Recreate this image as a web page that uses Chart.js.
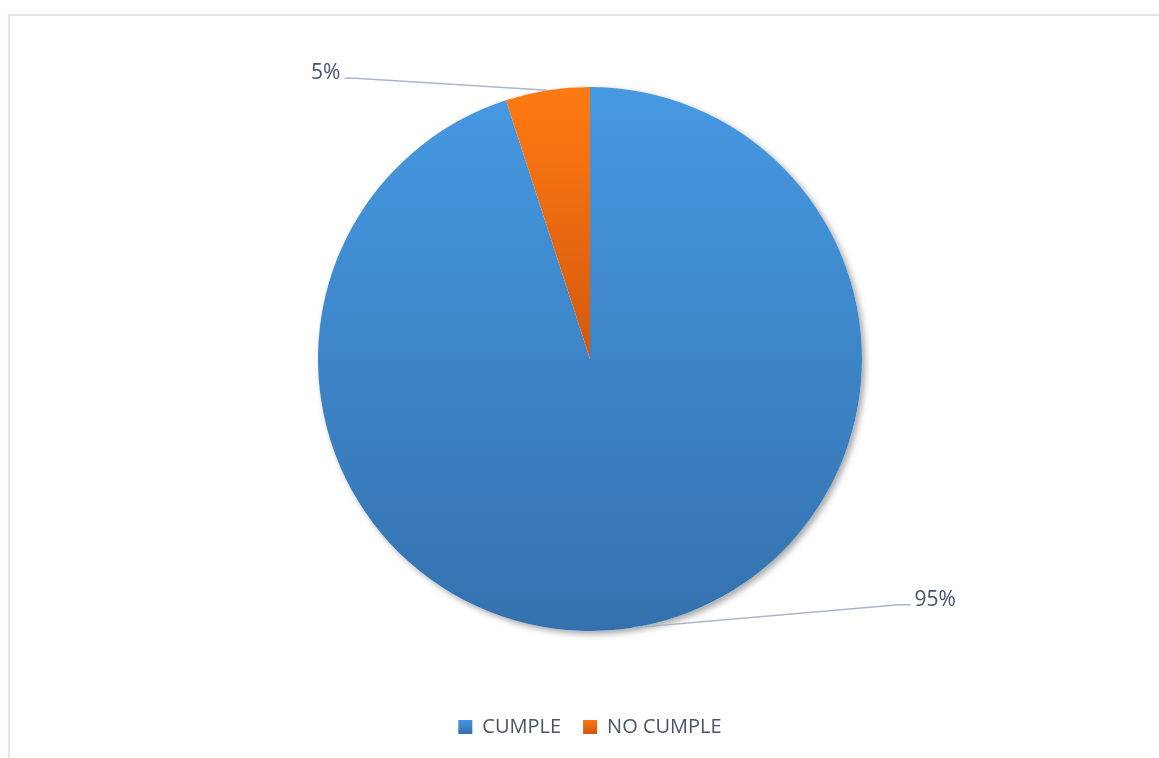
<!DOCTYPE html>
<html>
<head>
<meta charset="utf-8">
<script src="https://cdn.jsdelivr.net/npm/chart.js@4"></script>
<style>
  html, body { margin: 0; padding: 0; background: #fff; }
  #wrap { position: relative; width: 1159px; height: 758px; }
  #frame {
    position: absolute; left: 8px; top: 14px; right: 0; bottom: 0;
    border-top: 2px solid #e1e5ec; border-left: 2px solid #e1e5ec;
  }
  canvas { position: absolute; left: 0; top: 0; }
</style>
</head>
<body>
<div id="wrap">
  <div id="frame"></div>
  <canvas id="pieChart" width="1159" height="758"></canvas>
</div>
<script>
const labels = ['CUMPLE', 'NO CUMPLE'];
const values = [95, 5];
const pctLabels = ['95%', '5%'];

const textColor = '#44546a';
const lineColor = '#a9b6c8';
const sliceStops = [['#4699e2', '#3471ae'], ['#ff7a12', '#d3590e']];

// top-to-bottom shading like the office gradient fills
function sliceFill(context) {
    const chart = context.chart;
    const area = chart.chartArea;
    const i = context.dataIndex;
    if (!area || !isFinite(area.top)) return sliceStops[i][0];
    const cy = (area.top + area.bottom) / 2;
    const r = Math.min(area.right - area.left, area.bottom - area.top) / 2;
    const g = chart.ctx.createLinearGradient(0, cy - r, 0, i === 0 ? cy + r : cy);
    g.addColorStop(0, sliceStops[i][0]);
    g.addColorStop(1, sliceStops[i][1]);
    return g;
}

const shadowPlugin = {
    id: 'pieShadow',
    beforeDatasetsDraw(chart) {
        const arc = chart.getDatasetMeta(0).data[0];
        if (!arc) return;
        const ctx = chart.ctx;
        ctx.save();
        ctx.shadowColor = 'rgba(0,0,0,0.35)';
        ctx.shadowBlur = 6;
        ctx.shadowOffsetX = 3;
        ctx.shadowOffsetY = 3;
        ctx.fillStyle = '#ffffff';
        ctx.beginPath();
        ctx.arc(arc.x, arc.y, arc.outerRadius, 0, Math.PI * 2);
        ctx.fill();
        ctx.restore();
    }
};

// percentage labels with leader lines out to the side
const leaderPlugin = {
    id: 'leaders',
    afterDatasetsDraw(chart) {
        const ctx = chart.ctx;
        const arcs = chart.getDatasetMeta(0).data;
        const bends = [
            { dx: 266, dy: -23, tail: 12, align: 'left' },
            { dx: -192, dy: -12, tail: -11, align: 'right' }
        ];
        ctx.save();
        arcs.forEach((arc, i) => {
            const mid = (arc.startAngle + arc.endAngle) / 2;
            const ex = arc.x + Math.cos(mid) * arc.outerRadius;
            const ey = arc.y + Math.sin(mid) * arc.outerRadius;
            const b = bends[i];
            const bx = ex + b.dx, by = ey + b.dy;
            const tx = bx + b.tail;
            ctx.strokeStyle = lineColor;
            ctx.lineWidth = 1.5;
            ctx.beginPath();
            ctx.moveTo(ex, ey);
            ctx.lineTo(bx, by);
            ctx.lineTo(tx, by);
            ctx.stroke();
            ctx.fillStyle = textColor;
            ctx.font = '21px "Open Sans"';
            ctx.textAlign = b.align;
            ctx.textBaseline = 'alphabetic';
            ctx.fillText(pctLabels[i], tx + (b.align === 'left' ? 4 : -4), by + 1);
        });
        ctx.restore();
    }
};

new Chart(document.getElementById('pieChart').getContext('2d'), {
    type: 'pie',
    data: {
        labels: labels,
        datasets: [{
            data: values,
            backgroundColor: sliceFill,
            borderWidth: 0
        }]
    },
    options: {
        responsive: false,
        animation: false,
        layout: { padding: { left: 318, right: 297, top: 23, bottom: 11 } },
        plugins: {
            tooltip: { enabled: false },
            legend: {
                position: 'bottom',
                labels: {
                    boxWidth: 14,
                    boxHeight: 14,
                    padding: 22,
                    color: textColor,
                    font: { family: 'Open Sans', size: 20 },
                    generateLabels(chart) {
                        return labels.map((text, i) => {
                            const g = chart.ctx.createLinearGradient(0, 719, 0, 733);
                            g.addColorStop(0, sliceStops[i][0]);
                            g.addColorStop(1, sliceStops[i][1]);
                            return {
                                text: text,
                                fillStyle: g,
                                strokeStyle: g,
                                lineWidth: 0,
                                fontColor: textColor,
                                hidden: false,
                                index: i
                            };
                        });
                    }
                }
            }
        }
    },
    plugins: [shadowPlugin, leaderPlugin]
});
</script>
</body>
</html>
